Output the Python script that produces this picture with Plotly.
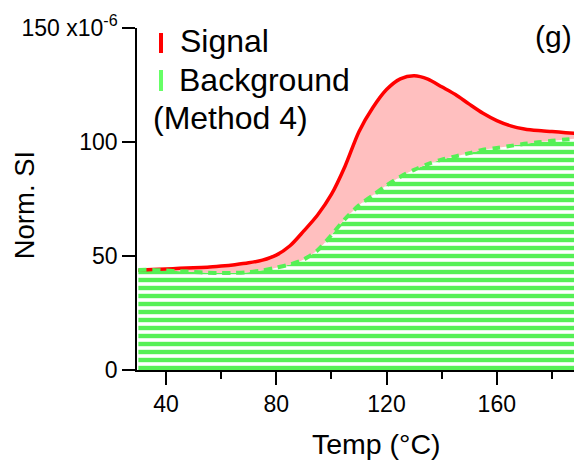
import plotly.graph_objects as go

# Temperature (°C)
temp = [30, 35, 40, 45, 50, 55, 60, 65, 70, 75, 80, 85, 90, 95, 100, 105, 110,
        115, 120, 125, 130, 135, 140, 145, 150, 155, 160, 165, 170, 175, 180, 185, 190]
# Normalised SI, in units of 1e-6
signal = [43.8, 44.1, 44.3, 44.6, 44.8, 45.1, 45.6, 46.2, 47.0, 48.2, 50.4, 54.5, 61.0,
          68.0, 77.0, 89.5, 104.5, 115.0, 123.0, 127.7, 129.1, 127.6, 124.2, 120.8,
          116.6, 112.6, 109.4, 107.1, 105.7, 105.0, 104.6, 104.1, 103.6]
background = [43.9, 43.9, 43.6, 43.3, 43.0, 42.7, 42.5, 42.6, 42.9, 43.7, 44.9, 46.3, 48.5,
              52.5, 59.2, 66.3, 72.2, 76.6, 81.0, 84.8, 87.8, 90.3, 92.3, 93.7, 95.1,
              96.6, 97.4, 98.3, 99.2, 99.9, 100.5, 101.1, 101.6]

x_ticks = [40, 80, 120, 160]
y_ticks = [0, 50, 100, 150]
y_ticktext = ["0", "50", "100", "150\u00a0x10<sup>-6</sup>"]

RED = "#ff0000"
PINK = "#ffbfbf"
GREEN = "#55f055"
FONT = "Liberation Sans, Arial, sans-serif"

FIG_W, FIG_H = 574, 464
L, T, W, H = 137, 28, 437, 342   # plot area in window pixels

fig = go.Figure()
# background filled with horizontal stripes
fig.add_trace(go.Scatter(
    x=temp, y=background, mode="lines", line=dict(width=0, shape="spline", smoothing=0.8),
    fill="tozeroy", fillcolor="white",
    fillpattern=dict(shape="-", fgcolor=GREEN, bgcolor="white", size=8, solidity=0.55,
                     fgopacity=1),
    hoverinfo="skip", showlegend=False))
# signal filled down to background
fig.add_trace(go.Scatter(
    x=temp, y=signal, mode="lines",
    line=dict(color=RED, width=3.5, shape="spline", smoothing=0.8),
    fill="tonexty", fillcolor=PINK, showlegend=False))
# background dashed line on top
fig.add_trace(go.Scatter(
    x=temp, y=background, mode="lines",
    line=dict(color=GREEN, width=4, dash="8px,6px", shape="spline", smoothing=0.8),
    showlegend=False))


def px(xp):
    return (xp - L) / W


def py(yp):
    return (T + H - yp) / H


fig.update_layout(
    width=FIG_W, height=FIG_H,
    margin=dict(l=L, r=FIG_W - L - W, t=T, b=FIG_H - T - H, pad=0),
    paper_bgcolor="white", plot_bgcolor="white",
    font=dict(family=FONT, color="black"),
    xaxis=dict(range=[29.5, 188], tickvals=x_ticks, ticks="outside", ticklen=13,
               tickwidth=1.5, tickcolor="black", showline=True, linecolor="black",
               linewidth=1.5, showgrid=False, zeroline=False,
               tickfont=dict(size=23, family=FONT, color="black"),
               minor=dict(ticks="outside", ticklen=7, tickwidth=1.5, tickcolor="black",
                          dtick=20, tick0=0, showgrid=False)),
    yaxis=dict(range=[0, 150], tickvals=y_ticks, ticktext=y_ticktext, ticks="outside",
               ticklen=13, tickwidth=1.5, tickcolor="black", showline=True,
               linecolor="black", linewidth=1.5, showgrid=False, zeroline=False,
               tickfont=dict(size=23, family=FONT, color="black")),
    showlegend=False,
)

shapes = [
    dict(type="rect", xref="paper", yref="paper", x0=px(159), x1=px(163), y0=py(53), y1=py(33),
         fillcolor=RED, line=dict(width=0)),
    dict(type="rect", xref="paper", yref="paper", x0=px(159), x1=px(163), y0=py(91), y1=py(70),
         fillcolor="#66ff66", line=dict(width=0)),
]
fig.update_layout(shapes=shapes)

ann = [
    dict(text="Signal", x=px(177.5), y=py(21), xanchor="left", yanchor="top", size=32),
    dict(text="Background", x=px(177), y=py(60), xanchor="left", yanchor="top", size=32),
    dict(text="(Method 4)", x=px(150.5), y=py(97.5), xanchor="left", yanchor="top", size=32),
    dict(text="(g)", x=px(574), y=py(18), xanchor="right", yanchor="top", size=30),
    dict(text="Temp (°C)", x=px(376.5), y=py(426), xanchor="center", yanchor="top", size=28.5),
]
annotations = []
for a in ann:
    annotations.append(dict(text=a["text"], x=a["x"], y=a["y"], xref="paper", yref="paper",
                            xanchor=a["xanchor"], yanchor=a["yanchor"], showarrow=False,
                            font=dict(size=a["size"], family=FONT, color="black")))
annotations.append(dict(text="Norm. SI", x=px(24.3), y=py(205), xref="paper", yref="paper",
                        xanchor="center", yanchor="middle", showarrow=False, textangle=-90,
                        font=dict(size=27.5, family=FONT, color="black")))
fig.update_layout(annotations=annotations)

fig.write_html("out.html", config={"displayModeBar": False},
               post_script="document.body.style.margin='0';"
                           "document.body.style.overflow='hidden';")
